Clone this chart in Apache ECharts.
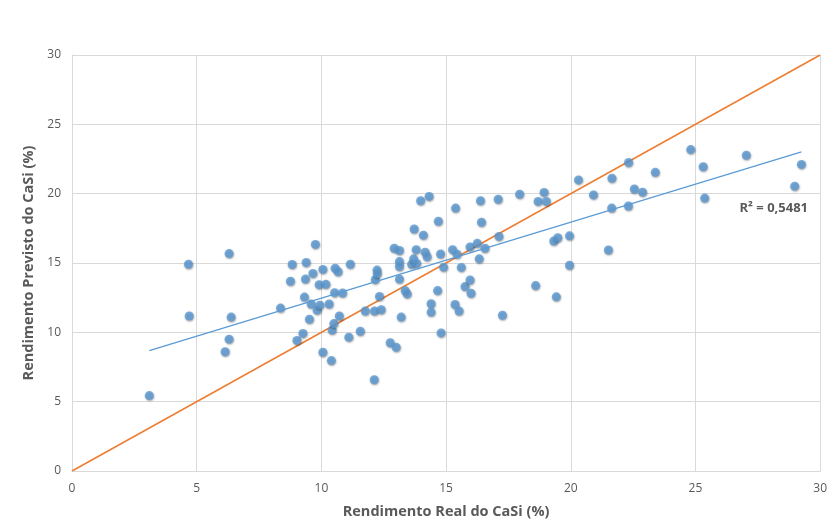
<!DOCTYPE html>
<html>
<head>
<meta charset="utf-8">
<script src="https://cdn.jsdelivr.net/npm/echarts@6/dist/echarts.min.js"></script>
<style>
html,body{margin:0;padding:0;background:#fff;}
#chart{width:830px;height:524px;}
</style>
</head>
<body>
<div id="chart"></div>
<script>
// Observed data: real (x) vs predicted (y) CaSi yield
const realValues = [3.10,4.67,4.70,6.30,6.38,6.30,6.14,8.36,8.76,8.83,9.02,9.26,9.32,9.36,9.39,9.52,9.59,9.66,9.76,9.83,9.91,9.94,10.06,10.06,10.18,10.31,10.40,10.43,10.50,10.53,10.55,10.67,10.72,10.85,11.10,11.16,11.56,11.76,12.12,12.13,12.16,12.23,12.24,12.33,12.40,12.76,12.92,13.00,13.13,13.13,13.13,13.13,13.20,13.36,13.44,13.62,13.70,13.72,13.80,13.82,13.98,14.09,14.16,14.24,14.32,14.40,14.40,14.66,14.69,14.78,14.80,14.90,15.26,15.36,15.38,15.44,15.52,15.61,15.76,15.96,15.96,16.00,16.25,16.33,16.38,16.42,16.56,17.09,17.12,17.26,17.95,18.59,18.69,18.93,19.02,19.32,19.42,19.48,19.95,19.95,20.31,20.91,21.51,21.64,21.65,22.31,22.32,22.55,22.88,23.39,24.81,25.31,25.37,27.04,28.98,29.25];
const predictedValues = [5.44,14.91,11.18,15.68,11.10,9.51,8.60,11.75,13.68,14.89,9.42,9.92,12.54,13.84,15.04,10.94,12.04,14.25,16.34,11.60,13.44,11.96,14.54,8.56,13.46,12.04,7.96,10.16,10.63,12.86,14.63,14.37,11.18,12.84,9.65,14.91,10.08,11.54,6.58,11.54,13.80,14.49,14.22,12.59,11.63,9.25,16.06,8.92,15.90,15.10,14.75,13.84,11.10,13.01,12.77,14.91,15.30,17.45,15.96,14.96,19.49,17.01,15.78,15.45,19.80,12.06,11.46,13.01,18.01,15.65,9.96,14.70,15.96,12.01,18.96,15.63,11.54,14.68,13.30,16.16,13.77,12.82,16.42,15.30,19.49,17.94,16.06,19.60,16.92,11.23,19.96,13.37,19.44,20.09,19.44,16.59,12.56,16.82,16.96,14.84,20.99,19.91,15.94,18.96,21.11,19.11,22.25,20.34,20.11,21.54,23.18,21.94,19.68,22.77,20.54,22.11];
// Linear trendline endpoints
const trendX = [3.10, 29.25];
const trendY = [8.68, 23.01];
// 1:1 reference line
const identityX = [0, 30];
const identityY = [0, 30];
const axisTicks = [0, 5, 10, 15, 20, 25, 30];
const r2Label = 'R² = 0,5481';
const xTitle = 'Rendimento Real do CaSi (%)';
const yTitle = 'Rendimento Previsto do CaSi (%)';

const pts = realValues.map((x, i) => [x, predictedValues[i]]);
const trend = trendX.map((x, i) => [x, trendY[i]]);
const identity = identityX.map((x, i) => [x, identityY[i]]);

const chart = echarts.init(document.getElementById('chart'));
const labelFont = '"Liberation Sans Narrow", "Open Sans", sans-serif';
chart.setOption({
  animation: false,
  backgroundColor: '#fff',
  grid: {left: 72, top: 55, right: 6, bottom: 48, containLabel: false},
  xAxis: {
    type: 'value', min: axisTicks[0], max: axisTicks[axisTicks.length-1], interval: 5,
    name: xTitle, nameLocation: 'middle', nameGap: 33,
    nameTextStyle: {color: '#595959', fontSize: 14.5, fontWeight: 'bold', fontFamily: '"Open Sans", sans-serif'},
    axisLine: {show: true, lineStyle: {color: '#D9D9D9'}},
    axisTick: {show: false},
    axisLabel: {color: '#595959', fontSize: 12, margin: 12, fontFamily: labelFont},
    splitLine: {show: true, lineStyle: {color: '#D9D9D9'}}
  },
  yAxis: {
    type: 'value', min: axisTicks[0], max: axisTicks[axisTicks.length-1], interval: 5,
    name: yTitle, nameLocation: 'middle', nameGap: 33, nameRotate: 90,
    nameTextStyle: {color: '#595959', fontSize: 14.5, fontWeight: 'bold', fontFamily: '"Open Sans", sans-serif'},
    axisLine: {show: true, lineStyle: {color: '#D9D9D9'}},
    axisTick: {show: false},
    axisLabel: {color: '#595959', fontSize: 12, margin: 11, fontFamily: labelFont},
    splitLine: {show: true, lineStyle: {color: '#D9D9D9'}}
  },
  graphic: [{
    type: 'text', right: 22, top: 202,
    style: {text: r2Label, fill: '#595959', font: 'bold 13px "Open Sans", sans-serif'}
  }],
  series: [
    {
      type: 'line', data: identity, symbol: 'none', z: 3,
      lineStyle: {color: '#ED7D31', width: 1.5}
    },
    {
      type: 'scatter', data: pts, symbol: 'circle', symbolSize: 9, z: 4,
      itemStyle: {color: '#5B9BD5', shadowBlur: 2, shadowColor: 'rgba(0,0,0,0.45)', shadowOffsetX: 0.5, shadowOffsetY: 1}
    },
    {
      type: 'line', data: trend, symbol: 'none', z: 5,
      lineStyle: {color: '#5B9BD5', width: 1.3}
    }
  ]
});
</script>
</body>
</html>
